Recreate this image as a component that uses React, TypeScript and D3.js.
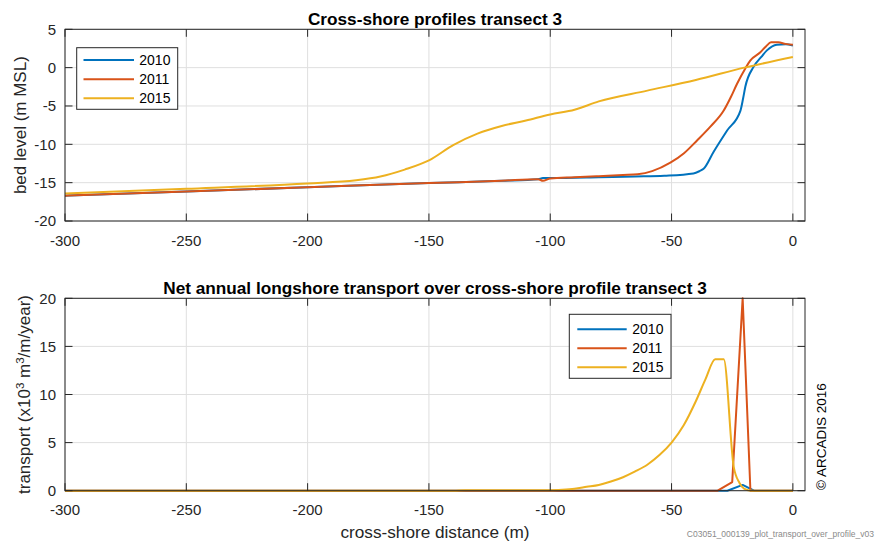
import React from "react";
import * as d3 from "d3";

// ---------- data ----------
const seriesNames = ["2010", "2011", "2015"];
const seriesColors = ["#0072BD", "#D95319", "#EDB120"];

// Top panel: bed level profiles (x = cross-shore distance, y = bed level)
const prof2010X = [-300, -250, -200, -150, -120, -105, -103, -100, -80, -65, -53, -41, -38.5, -36.8, -32.7, -27.1, -21.6, -20.5, -19.6, -16.2, -13, -10.7, -6.6, -3, 0];
const prof2010Y = [-16.7, -16.15, -15.6, -15.05, -14.75, -14.55, -14.4, -14.4, -14.3, -14.2, -14.1, -13.8, -13.5, -13.2, -11.0, -8.2, -5.6, -4.0, -2.5, 0.1, 1.4, 2.25, 3.0, 3.05, 2.9];
const prof2011X = [-300, -250, -200, -150, -120, -105, -103, -100, -90, -80, -70, -64, -58, -50.5, -45, -39.5, -34, -28.5, -25.5, -23, -19.6, -17.5, -13.4, -11, -9, -6, -3, 0];
const prof2011Y = [-16.7, -16.15, -15.6, -15.05, -14.75, -14.55, -14.75, -14.45, -14.3, -14.15, -14.0, -13.9, -13.5, -12.4, -11.2, -9.5, -7.7, -5.6, -3.8, -2.1, -0.1, 0.95, 2.0, 2.8, 3.3, 3.3, 3.1, 3.0];
const prof2015X = [-300, -250, -200, -180, -170, -160, -150, -140, -130, -120, -110, -100, -90, -80, -60, -40, -20, 0];
const prof2015Y = [-16.4, -15.8, -15.1, -14.7, -14.2, -13.3, -12.1, -10.1, -8.6, -7.6, -6.9, -6.1, -5.5, -4.4, -3.0, -1.6, 0.0, 1.4];

// Bottom panel: net annual longshore transport (x10^3 m3/m/year)
const trans2010X = [-300, -27, -20.7, -16, 0];
const trans2010Y = [0, 0, 0.6, 0, 0];
const trans2011X = [-300, -31, -25, -20.7, -17.5, 0];
const trans2011Y = [0, 0, 0.9, 20, 0, 0];
const trans2015X = [-300, -140, -135, -100, -95, -90, -85, -80, -75, -70, -65, -60, -55, -50, -45, -40, -36, -32, -28.5, -24.4, -22, -20, -17, 0];
const trans2015Y = [0, 0, 0.05, 0.05, 0.1, 0.2, 0.4, 0.6, 0.95, 1.4, 2.0, 2.7, 3.7, 5.0, 6.8, 9.3, 11.6, 13.66, 13.66, 2.5, 0.8, 0.2, 0, 0];

const xTicks = [-300, -250, -200, -150, -100, -50, 0];
const topYTicks = [-20, -15, -10, -5, 0, 5];
const botYTicks = [0, 5, 10, 15, 20];

const topTitle = "Cross-shore profiles transect 3";
const botTitle = "Net annual longshore transport over cross-shore profile transect 3";
const xLabel = "cross-shore distance (m)";
const topYLabel = "bed level (m MSL)";
const copyright = "© ARCADIS 2016";
const fileTag = "C03051_000139_plot_transport_over_profile_v03";

// ---------- layout ----------
const W = 883;
const H = 542;
const FONT = "'Liberation Sans', Arial, Helvetica, sans-serif";
const AX = "#262626";
const GRID = "#dfdfdf";
const left = 65;
const right = 805;
const topPanel = { y0: 29.3, y1: 221 };
const botPanel = { y0: 298.3, y1: 490.7 };
const TICK = 7.5;

const zip = (xs: number[], ys: number[]) => xs.map((x, i) => [x, ys[i]] as [number, number]);

function Panel(props: {
  yDomain: [number, number];
  yTicks: number[];
  box: { y0: number; y1: number };
  series: [number, number][][];
  smooth: boolean[];
  legend: { x0: number; x1: number; y0: number; y1: number; lx0: number; lx1: number; tx: number; ys: number[] };
}) {
  const { yDomain, yTicks, box, series, smooth, legend } = props;
  const x = d3.scaleLinear().domain([-300, 5]).range([left, right]);
  const y = d3.scaleLinear().domain(yDomain).range([box.y1, box.y0]);
  const mk = (sm: boolean) =>
    d3
      .line<[number, number]>()
      .x((d) => x(d[0]))
      .y((d) => y(d[1]))
      .curve(sm ? d3.curveMonotoneX : d3.curveLinear);
  return (
    <g>
      <rect x={left} y={box.y0} width={right - left} height={box.y1 - box.y0} fill="#fff" />
      {xTicks.map((t) => (
        <line key={"gx" + t} x1={x(t)} x2={x(t)} y1={box.y0} y2={box.y1} stroke={GRID} strokeWidth={1} />
      ))}
      {yTicks.map((t) => (
        <line key={"gy" + t} x1={left} x2={right} y1={y(t)} y2={y(t)} stroke={GRID} strokeWidth={1} />
      ))}
      {series.map((s, i) => (
        <path key={"s" + i} d={mk(smooth[i])(s) || ""} fill="none" stroke={seriesColors[i]} strokeWidth={2} strokeLinejoin="round" />
      ))}
      <rect x={left} y={box.y0} width={right - left} height={box.y1 - box.y0} fill="none" stroke={AX} strokeWidth={1} />
      {xTicks.map((t) => (
        <g key={"tx" + t}>
          <line x1={x(t)} x2={x(t)} y1={box.y1} y2={box.y1 - TICK} stroke={AX} />
          <line x1={x(t)} x2={x(t)} y1={box.y0} y2={box.y0 + TICK} stroke={AX} />
          <text x={x(t)} y={box.y1 + 24.5} textAnchor="middle" fontSize={15} fill={AX} fontFamily={FONT}>
            {t}
          </text>
        </g>
      ))}
      {yTicks.map((t) => (
        <g key={"ty" + t}>
          <line x1={left} x2={left + TICK} y1={y(t)} y2={y(t)} stroke={AX} />
          <line x1={right} x2={right - TICK} y1={y(t)} y2={y(t)} stroke={AX} />
          <text x={56} y={y(t)} dy="0.36em" textAnchor="end" fontSize={15} fill={AX} fontFamily={FONT}>
            {t}
          </text>
        </g>
      ))}
      <rect x={legend.x0} y={legend.y0} width={legend.x1 - legend.x0} height={legend.y1 - legend.y0} fill="#fff" stroke={AX} strokeWidth={1} />
      {seriesNames.map((n, i) => (
        <g key={"lg" + n}>
          <line x1={legend.lx0} x2={legend.lx1} y1={legend.ys[i]} y2={legend.ys[i]} stroke={seriesColors[i]} strokeWidth={2} />
          <text x={legend.tx} y={legend.ys[i]} dy="0.36em" fontSize={14} fill="#000" fontFamily={FONT}>
            {n}
          </text>
        </g>
      ))}
    </g>
  );
}

export default function App() {
  const topSeries = [zip(prof2010X, prof2010Y), zip(prof2011X, prof2011Y), zip(prof2015X, prof2015Y)];
  const botSeries = [zip(trans2010X, trans2010Y), zip(trans2011X, trans2011Y), zip(trans2015X, trans2015Y)];
  const cx = (left + right) / 2;
  return (
    <svg width={W} height={H} style={{ position: "absolute", left: 0, top: 0, background: "#fff" }} fontFamily={FONT}>
      <rect width={W} height={H} fill="#fff" />
      <Panel
        yDomain={[-20, 5]}
        yTicks={topYTicks}
        box={topPanel}
        series={topSeries}
        smooth={[true, true, true]}
        legend={{ x0: 76.7, x1: 177.7, y0: 47.7, y1: 109.3, lx0: 83.5, lx1: 134, tx: 139.3, ys: [60, 79.3, 98.3] }}
      />
      <Panel
        yDomain={[0, 20]}
        yTicks={botYTicks}
        box={botPanel}
        series={botSeries}
        smooth={[false, false, true]}
        legend={{ x0: 569.3, x1: 671, y0: 314.3, y1: 378.3, lx0: 577.3, lx1: 626.7, tx: 632.3, ys: [329.3, 348.3, 367.3] }}
      />
      <text x={cx} y={25} textAnchor="middle" fontSize={17.2} fontWeight="bold" fill="#000">
        {topTitle}
      </text>
      <text x={cx} y={293.5} textAnchor="middle" fontSize={17.2} fontWeight="bold" fill="#000">
        {botTitle}
      </text>
      <text x={cx} y={538} textAnchor="middle" fontSize={17.2} fill={AX}>
        {xLabel}
      </text>
      <text transform={`translate(25.5,${(topPanel.y0 + topPanel.y1) / 2}) rotate(-90)`} textAnchor="middle" fontSize={17} fill={AX}>
        {topYLabel}
      </text>
      <text transform={`translate(29.5,${(botPanel.y0 + botPanel.y1) / 2}) rotate(-90)`} textAnchor="middle" fontSize={17} fill={AX}>
        {"transport (x10"}
        <tspan dy={-6} fontSize={11.5}>3</tspan>
        <tspan dy={6}>{" m"}</tspan>
        <tspan dy={-6} fontSize={11.5}>3</tspan>
        <tspan dy={6}>{"/m/year)"}</tspan>
      </text>
      <text transform={`translate(826,${490}) rotate(-90)`} textAnchor="start" fontSize={13.5} fill="#000">
        {copyright}
      </text>
      <text x={874} y={537} textAnchor="end" fontSize={8.5} fill="#8a8a8a">
        {fileTag}
      </text>
    </svg>
  );
}
